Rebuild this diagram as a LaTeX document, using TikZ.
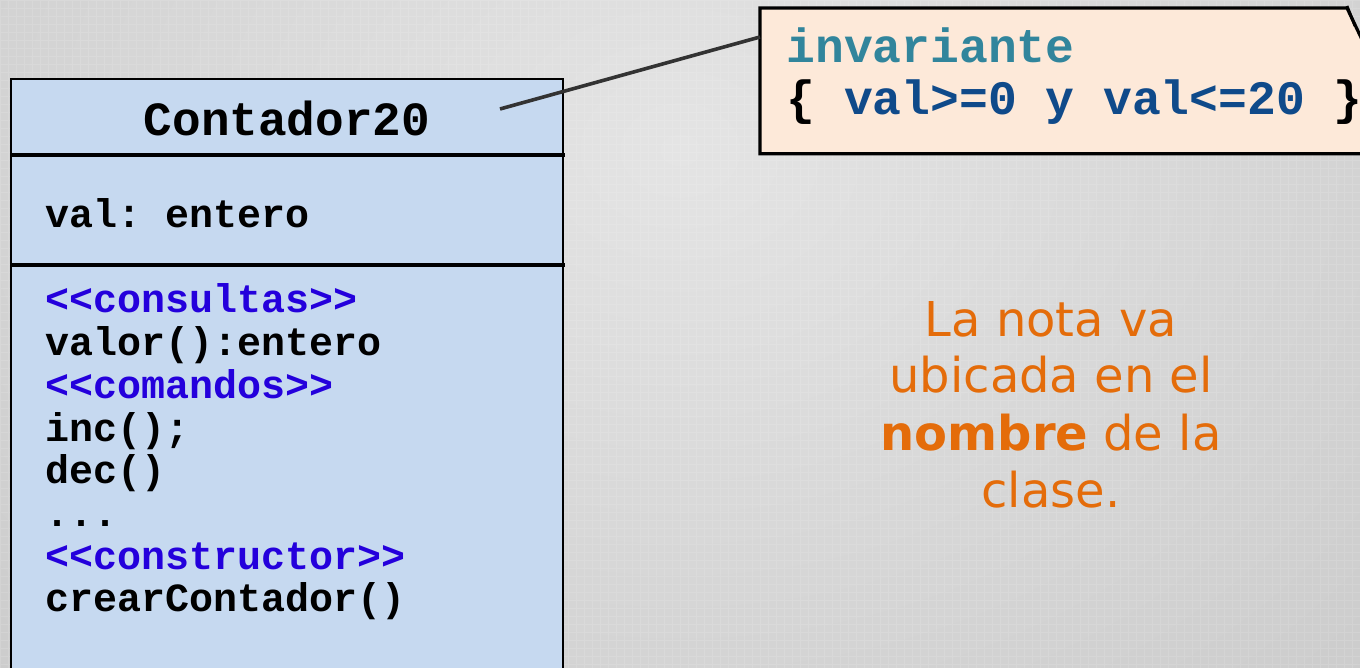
\documentclass[tikz,border=0pt]{standalone}
\usepackage{fontspec}
\setmainfont{DejaVu Sans}
\setmonofont{Liberation Mono}
\usetikzlibrary{calc}

\definecolor{bgin}{HTML}{E4E4E4}
\definecolor{bgout}{HTML}{C9C9C9}
\definecolor{classfill}{HTML}{C6D9F0}
\definecolor{notefill}{HTML}{FDE9D9}
\definecolor{stereo}{HTML}{2400DC}
\definecolor{invcol}{HTML}{31859C}
\definecolor{exprcol}{HTML}{0F4A8A}
\definecolor{hintcol}{HTML}{E46C0A}
\definecolor{linkcol}{HTML}{333333}

\begin{document}
\begin{tikzpicture}[x=0.5pt,y=-0.5pt,
  classbox/.style={draw=black, line width=0.9pt, fill=classfill, inner sep=0pt, anchor=north west},
  notebox/.style={draw=none, inner sep=0pt, anchor=north west},
  divider/.style={black, line width=1.7pt},
  umltext/.style={font=\ttfamily\bfseries\fontsize{20pt}{21.35pt}\selectfont, inner sep=0pt, anchor=base west},
  bigmono/.style={font=\ttfamily\bfseries\fontsize{23.85pt}{25pt}\selectfont, inner sep=0pt},
  notemono/.style={font=\ttfamily\bfseries\fontsize{24pt}{25pt}\selectfont, inner sep=0pt, anchor=base west},
  hint/.style={font=\fontsize{24pt}{28.5pt}\selectfont, text=hintcol, inner sep=0pt, anchor=base},
  link/.style={draw=linkcol, line width=1.8pt}]

\useasboundingbox (0,0) rectangle (1360,668);
\clip (0,0) rectangle (1360,668);

% backdrop: soft grey gradient with a faint grid texture
\shade[inner color=bgin, outer color=bgout] (-400,-700) rectangle (1760,1000);
\draw[white, opacity=0.12, line width=0.4pt, step=4pt] (0,0) grid (1360,668);

% class box with its three compartments
\node[classbox, minimum width=276pt, minimum height=320pt] (cls) at (10,78) {};
\draw[divider] (12,155) -- (565,155);
\draw[divider] (12,265) -- (565,265);

\node[bigmono, anchor=base] (cname) at (287,136) {Contador20};
\node[umltext] (attr) at (45,228) {val: entero};

\foreach \txt/\col [count=\i from 0] in {%
  {<<consultas>>}/stereo,
  {valor():entero}/black,
  {<<comandos>>}/stereo,
  {inc();}/black,
  {dec()}/black,
  {...}/black,
  {<<constructor>>}/stereo,
  {crearContador()}/black}
  \node[umltext, text=\col] (op\i) at (45,313+42.7*\i) {\txt};

% note with folded corner
\node[notebox, minimum width=308pt, minimum height=72.5pt] (note) at (760,8) {};
\filldraw[fill=notefill, draw=black, line width=1.6pt, line join=miter]
  (note.north west) -- (1347,8) -- (1366,48) -- (1376,48)
  |- (note.south west) -- cycle;
\draw[black, line width=1.4pt] (1347,6) -- (1355,26);

\node[notemono, text=invcol] (inv) at (786,63) {invariante};
\node[notemono] (expr) at (786,115)
  {\{ \textcolor{exprcol}{val>=0 y val<=20} \}};

% connector from the class name to the note
\coordinate (tail) at (500,109);
\draw[link] (tail) -- ($(note.north west)+(0,29)$);

% explanatory remark
\node[hint] (h1) at (1051,336) {La nota va};
\node[hint] (h2) at (1051,393) {ubicada en el};
\node[hint] (h3) at (1051,450) {\textbf{nombre} de la};
\node[hint] (h4) at (1051,507) {clase.};
\end{tikzpicture}
\end{document}
